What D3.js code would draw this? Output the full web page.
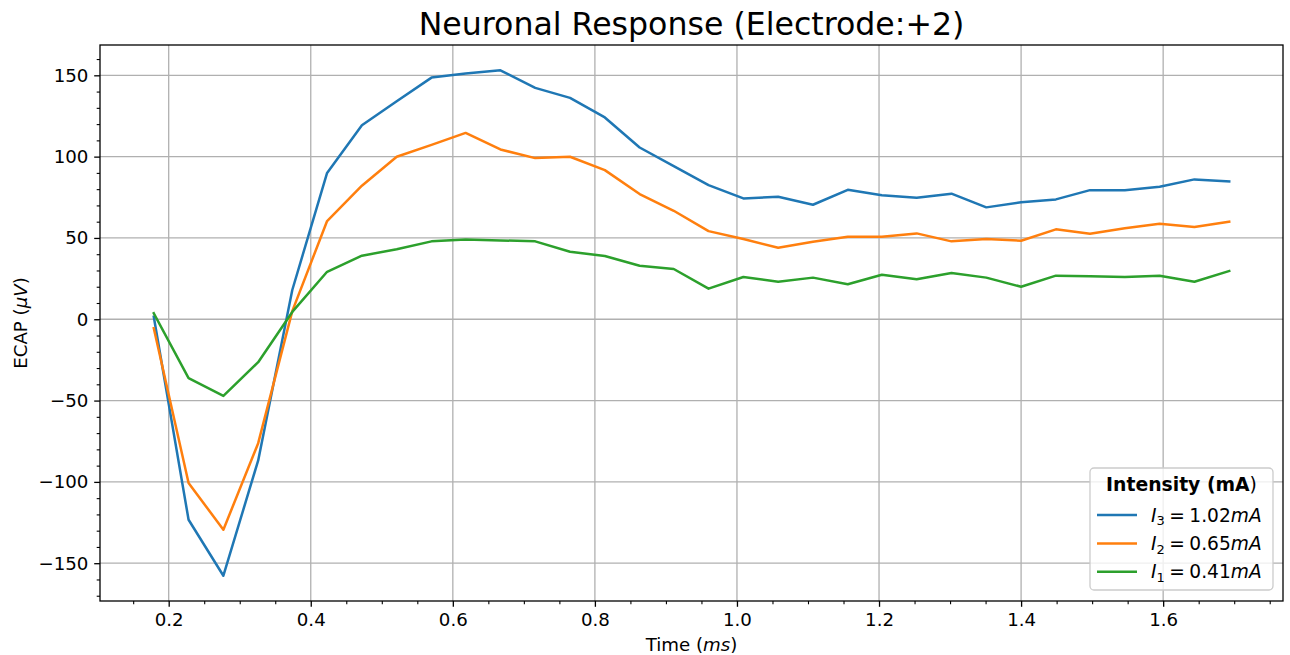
<!DOCTYPE html>
<html>
<head>
<meta charset="utf-8">
<script src="https://cdn.jsdelivr.net/npm/d3@7/dist/d3.min.js"></script>
<style>
  body { margin: 0; background: #fff; }
  text { font-family: "DejaVu Sans", sans-serif; fill: #000; }
</style>
</head>
<body>
<script>
// time samples (ms)
var times = [0.179, 0.228, 0.277, 0.326, 0.374, 0.423, 0.472, 0.521, 0.570, 0.618,
             0.667, 0.716, 0.765, 0.814, 0.863, 0.911, 0.960, 1.009, 1.058, 1.107,
             1.156, 1.204, 1.253, 1.302, 1.351, 1.400, 1.449, 1.497, 1.546, 1.595,
             1.644, 1.693];

// ECAP (uV) per intensity
var i3 = [1.6, -123.3, -157.7, -86.8, 18, 90.0, 119.3, 134.1, 148.6, 151.1,
          153.1, 142.3, 136.1, 124.1, 105.6, 94.2, 82.5, 74.3, 75.3, 70.4,
          79.6, 76.3, 74.7, 77.2, 68.8, 71.9, 73.7, 79.4, 79.4, 81.5,
          86.0, 84.8];
var i2 = [-5.5, -100.7, -129.4, -76.2, 5, 60.4, 82.1, 99.9, 107.2, 114.6,
          104.4, 99.1, 99.9, 91.7, 77.0, 66.7, 54.2, 49.3, 44.0, 47.7,
          50.7, 50.7, 52.8, 47.9, 49.3, 48.3, 55.3, 52.6, 55.9, 58.7,
          56.7, 60.0];
var i1 = [3.7, -36.2, -47.1, -26.4, 4.5, 29.2, 39.1, 43.0, 47.9, 49.1,
          48.5, 47.9, 41.5, 38.9, 32.9, 30.9, 18.8, 26.0, 23.1, 25.6,
          21.5, 27.4, 24.6, 28.4, 25.6, 20.0, 26.8, 26.4, 26.0, 26.8,
          23.1, 29.7];

var seriesNames = ["3", "2", "1"];
var seriesCurrents = ["1.02", "0.65", "0.41"];
var seriesColors = ["#1f77b4", "#ff7f0e", "#2ca02c"];
var seriesValues = [i3, i2, i1];

var xTicks = [0.2, 0.4, 0.6, 0.8, 1.0, 1.2, 1.4, 1.6];
var yTicks = [-150, -100, -50, 0, 50, 100, 150];

var W = 1290, H = 655;
var margin = { top: 45, right: 7, bottom: 54, left: 100 };
var fs = 18.2;

var svg = d3.select("body").append("svg")
    .attr("width", W)
    .attr("height", H);

var pw = W - margin.left - margin.right,
    ph = H - margin.top - margin.bottom;

// matplotlib style 5% padding
var xe = d3.extent(times), ye = d3.extent(i3.concat(i2, i1));
var xp = (xe[1] - xe[0]) * 0.05, yp = (ye[1] - ye[0]) * 0.05;

var x = d3.scaleLinear().domain([xe[0] - xp, xe[1] + xp]).range([0, pw]);
var y = d3.scaleLinear().domain([ye[0] - yp, ye[1] + yp]).range([ph, 0]);

var g = svg.append("g")
    .attr("transform", "translate(" + margin.left + "," + margin.top + ")");

// grid
g.append("g").selectAll("line").data(xTicks).enter().append("line")
    .attr("x1", function (d) { return x(d); })
    .attr("x2", function (d) { return x(d); })
    .attr("y1", 0).attr("y2", ph)
    .attr("stroke", "#b0b0b0").attr("stroke-width", 1.3);
g.append("g").selectAll("line").data(yTicks).enter().append("line")
    .attr("y1", function (d) { return y(d); })
    .attr("y2", function (d) { return y(d); })
    .attr("x1", 0).attr("x2", pw)
    .attr("stroke", "#b0b0b0").attr("stroke-width", 1.3);

// lines
var line = d3.line()
    .x(function (d, i) { return x(times[i]); })
    .y(function (d) { return y(d); });

g.selectAll(".series").data(seriesValues).enter().append("path")
    .attr("class", "series")
    .attr("d", line)
    .attr("fill", "none")
    .attr("stroke", function (d, i) { return seriesColors[i]; })
    .attr("stroke-width", 2.5)
    .attr("stroke-linejoin", "round")
    .attr("stroke-linecap", "square");

// minor ticks
var xMinor = d3.range(0.15, 1.76, 0.05).filter(function (d) {
    return Math.abs(Math.round(d * 5) - d * 5) > 1e-6;
});
var yMinor = d3.range(-170, 170, 10).filter(function (d) { return d % 50 !== 0; });

g.append("g").attr("transform", "translate(0," + ph + ")")
    .call(d3.axisBottom(x).tickValues(xMinor).tickSize(3.3).tickFormat(""))
    .call(function (a) { a.select(".domain").remove(); a.selectAll("line").attr("stroke-width", 1.1); });
g.append("g")
    .call(d3.axisLeft(y).tickValues(yMinor).tickSize(3.3).tickFormat(""))
    .call(function (a) { a.select(".domain").remove(); a.selectAll("line").attr("stroke-width", 1.1); });

// major axes
var xAxis = g.append("g").attr("transform", "translate(0," + ph + ")")
    .call(d3.axisBottom(x).tickValues(xTicks).tickSize(5.8).tickPadding(5.8)
        .tickFormat(d3.format(".1f")));
var yAxis = g.append("g")
    .call(d3.axisLeft(y).tickValues(yTicks).tickSize(5.8).tickPadding(5.8)
        .tickFormat(d3.format("d")));

[xAxis, yAxis].forEach(function (a) {
    a.select(".domain").remove();
    a.selectAll("line").attr("stroke-width", 1.3);
    a.selectAll("text").style("font-size", fs + "px").style("font-family", "DejaVu Sans");
});

// frame
g.append("rect")
    .attr("width", pw).attr("height", ph)
    .attr("fill", "none").attr("stroke", "#000").attr("stroke-width", 1.3);

// title
svg.append("text")
    .attr("x", margin.left + pw / 2).attr("y", 35)
    .attr("text-anchor", "middle")
    .style("font-size", "31.6px")
    .text("Neuronal Response (Electrode:+2)");

// x label
var xl = svg.append("text")
    .attr("x", margin.left + pw / 2).attr("y", 651)
    .attr("text-anchor", "middle")
    .style("font-size", fs + "px");
xl.append("tspan").text("Time (");
xl.append("tspan").style("font-style", "italic").text("ms");
xl.append("tspan").text(")");

// y label
var yl = svg.append("text")
    .attr("transform", "translate(27," + (margin.top + ph / 2) + ") rotate(-90)")
    .attr("text-anchor", "middle")
    .style("font-size", fs + "px");
yl.append("tspan").text("ECAP (");
yl.append("tspan").style("font-style", "italic").text("\u03bcV");
yl.append("tspan").text(")");

// legend
var lg = svg.append("g").attr("transform", "translate(1090,468)");
lg.append("rect")
    .attr("width", 183).attr("height", 122)
    .attr("rx", 4)
    .attr("fill", "#fff").attr("fill-opacity", 0.8)
    .attr("stroke", "#cccccc").attr("stroke-width", 1.3);

var lt = lg.append("text")
    .attr("x", 91.5).attr("y", 23)
    .attr("text-anchor", "middle")
    .style("font-size", "18.8px");
lt.append("tspan").style("font-weight", "bold").text("Intensity (mA");
lt.append("tspan").text(")");

var items = lg.selectAll(".item").data(seriesNames).enter().append("g")
    .attr("class", "item")
    .attr("transform", function (d, i) { return "translate(0," + (47 + i * 28.4) + ")"; });

items.append("line")
    .attr("x1", 7).attr("x2", 47)
    .attr("stroke", function (d, i) { return seriesColors[i]; })
    .attr("stroke-width", 2.5);

var it = items.append("text")
    .attr("x", 61).attr("y", 6.5)
    .style("font-size", "18.6px");
it.append("tspan").style("font-style", "italic").text("I");
it.append("tspan").attr("dy", 3.8).style("font-size", "13px").text(function (d) { return d; });
it.append("tspan").attr("dy", -3.8).attr("dx", 4.5).text("=");
it.append("tspan").attr("dx", 4.5).text(function (d, i) { return seriesCurrents[i]; });
it.append("tspan").style("font-style", "italic").text("mA");
</script>
</body>
</html>
